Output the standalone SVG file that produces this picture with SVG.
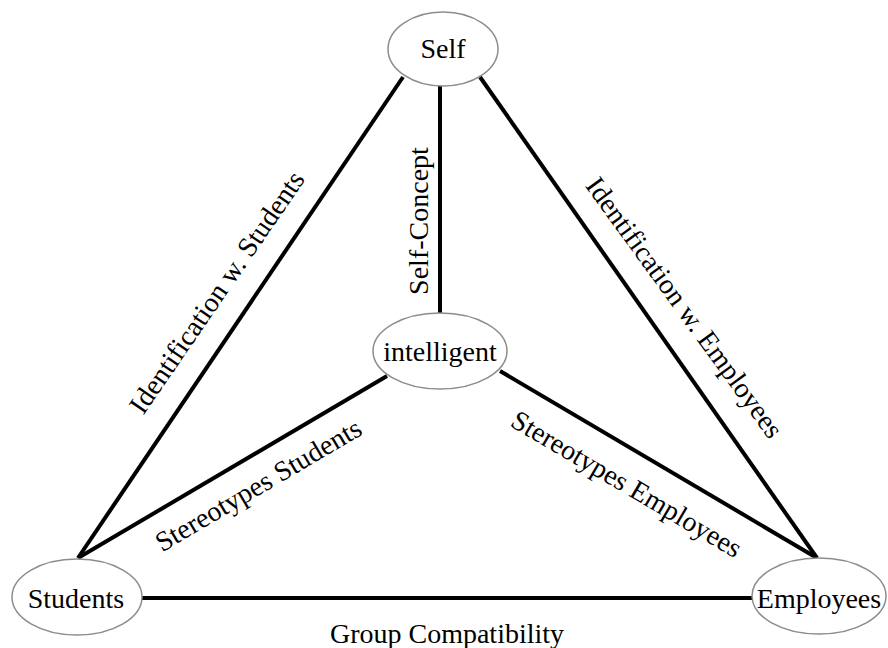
<svg xmlns="http://www.w3.org/2000/svg" width="888" height="648" viewBox="0 0 888 648">
  <style>
    .node ellipse { fill: #ffffff; stroke: #8c8c8c; stroke-width: 1.5; }
    .node text, .label { font-family: "Liberation Serif", "Times New Roman", serif; font-size: 28px; fill: #000000; text-anchor: middle; }
    .edge { stroke: #000000; stroke-width: 4; stroke-linecap: butt; fill: none; }
  </style>
  <rect width="888" height="648" fill="#ffffff"/>

  <!-- connectors -->
  <g id="connectors">
    <line class="edge" x1="403" y1="77" x2="78" y2="558"/>
    <line class="edge" x1="440" y1="86" x2="440" y2="313"/>
    <line class="edge" x1="480" y1="77" x2="817" y2="558"/>
    <line class="edge" x1="387" y1="376" x2="78" y2="558"/>
    <line class="edge" x1="500" y1="371" x2="817" y2="558"/>
    <line class="edge" x1="142" y1="598" x2="752" y2="598"/>
  </g>

  <!-- connector labels -->
  <g id="labels">
    <text class="label" transform="translate(224.5,297.5) rotate(-55.5)">Identification w. Students</text>
    <text class="label" transform="translate(428,221) rotate(-90)">Self-Concept</text>
    <text class="label" transform="translate(677,313) rotate(54)" font-size="26.5">Identification w. Employees</text>
    <text class="label" transform="translate(263,493) rotate(-30.5)">Stereotypes Students</text>
    <text class="label" transform="translate(622,492) rotate(30.5)">Stereotypes Employees</text>
    <text class="label" x="447" y="643" font-size="30">Group Compatibility</text>
  </g>

  <!-- nodes -->
  <g id="node-self" class="node">
    <ellipse cx="443" cy="49" rx="55" ry="37"/>
    <text x="443" y="58">Self</text>
  </g>
  <g id="node-intelligent" class="node">
    <ellipse cx="440" cy="351" rx="67" ry="38"/>
    <text x="440" y="361">intelligent</text>
  </g>
  <g id="node-students" class="node">
    <ellipse cx="77" cy="597" rx="65" ry="38"/>
    <text x="76" y="608">Students</text>
  </g>
  <g id="node-employees" class="node">
    <ellipse cx="819" cy="596" rx="67" ry="38"/>
    <text x="819" y="608">Employees</text>
  </g>
</svg>
